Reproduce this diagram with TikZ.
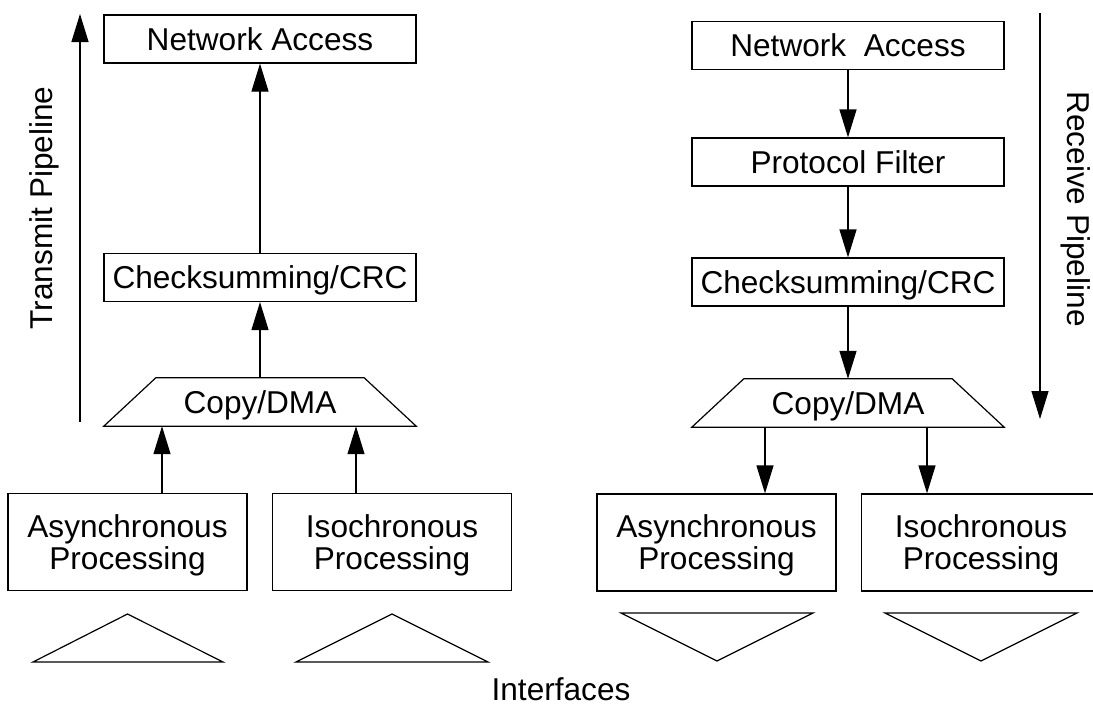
\documentclass[tikz,border=0pt]{standalone}
\usepackage{fontspec}
\setmainfont{Liberation Sans}
\usetikzlibrary{arrows.meta}
\begin{document}
\begin{tikzpicture}[x=1pt,y=-1pt,
  every node/.style={font=\fontsize{31.6}{32}\selectfont, inner sep=0pt},
  box/.style={draw, line width=1.2pt, minimum width=312pt, minimum height=48pt, text height=22.6pt, text depth=0pt},
  trapbox/.style={minimum width=312pt, minimum height=48pt, text height=22.6pt, text depth=0pt},
  pbox/.style={draw, line width=1.2pt, minimum width=239pt, minimum height=97pt, align=center, text height=54.6pt, text depth=0pt},
  flow/.style={line width=1.2pt, -{Triangle[width=17pt,length=28pt]}},
  outline/.style={line width=1.2pt, line join=miter},
  plain/.style={text height=22.6pt, text depth=0pt}]
\useasboundingbox (0,0) rectangle (1093,704);

% ---------- Transmit side ----------
\node[box] (nal) at (260,39) {Network Access};
\node[box] (ckl) at (260,277.5) {Checksumming/CRC};
\node[trapbox] (cdl) at (260,402) {Copy/DMA};
\draw[outline] (cdl.south west) -- ([xshift=52pt]cdl.north west) -- ([xshift=-52pt]cdl.north east) -- (cdl.south east) -- cycle;
\node[pbox] (al) at (127.5,542) {Asynchronous\\Processing};
\node[pbox] (il) at (392,542) {Isochronous\\Processing};

\draw[flow] (ckl.north) -- (nal.south);
\draw[flow] (cdl.north) -- (ckl.south);
\coordinate (al1) at ([xshift=34.5pt]al.north);
\coordinate (il1) at ([xshift=-36pt]il.north);
\draw[flow] (al1) -- (al1 |- cdl.south);
\draw[flow] (il1) -- (il1 |- cdl.south);

\coordinate (tpb) at (80,422);
\coordinate (tpt) at (80,14);
\draw[flow] (tpb) -- (tpt);
\node[rotate=90] (tpl) at (44,208) {Transmit Pipeline};

% interfaces (transmit)
\draw[outline] (33,662) -- (127.5,614) -- (223,662) -- cycle;
\draw[outline] (296,662) -- (392,614) -- (488,662) -- cycle;

% ---------- Receive side ----------
\node[box] (nar) at (848,45.5) {Network\ \ Access};
\node[box] (pfr) at (848,162) {Protocol Filter};
\node[box] (ckr) at (848,282) {Checksumming/CRC};
\node[trapbox] (cdr) at (848,403) {Copy/DMA};
\draw[outline] (cdr.south west) -- ([xshift=52pt]cdr.north west) -- ([xshift=-52pt]cdr.north east) -- (cdr.south east) -- cycle;
\node[pbox] (ar) at (716.5,542.5) {Asynchronous\\Processing};
\node[pbox] (ir) at (981,542.5) {Isochronous\\Processing};

\draw[flow] (nar.south) -- (pfr.north);
\draw[flow] (pfr.south) -- (ckr.north);
\draw[flow] (ckr.south) -- (cdr.north);
\coordinate (ar1) at ([xshift=48.5pt]ar.north);
\coordinate (ir1) at ([xshift=-54pt]ir.north);
\draw[flow] (ar1 |- cdr.south) -- (ar1);
\draw[flow] (ir1 |- cdr.south) -- (ir1);

\coordinate (rpt) at (1040,13);
\coordinate (rpb) at (1040,419);
\draw[flow] (rpt) -- (rpb);
\node[rotate=-90] (rpl) at (1076,209) {Receive Pipeline};

% interfaces (receive)
\draw[outline] (621,613) -- (717,661) -- (813,613) -- cycle;
\draw[outline] (885,613) -- (981,661) -- (1077,613) -- cycle;

\node[plain] (intf) at (561,689) {Interfaces};
\end{tikzpicture}
\end{document}
